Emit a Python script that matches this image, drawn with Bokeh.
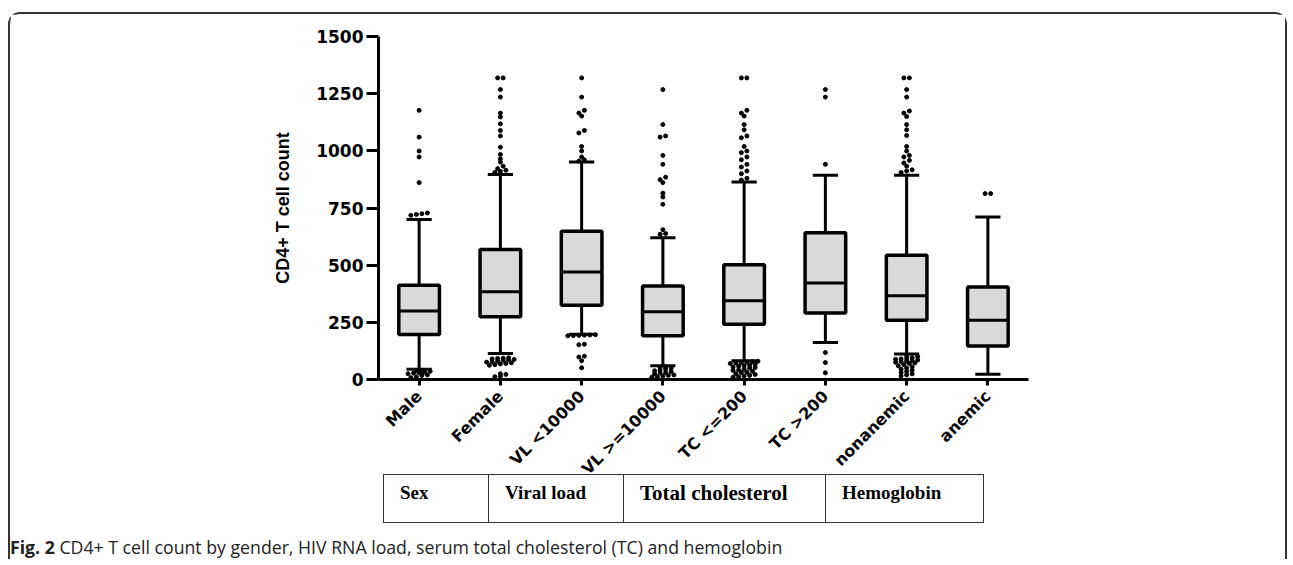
import math
from bokeh.plotting import figure
from bokeh.models import Range1d, FixedTicker, ColumnDataSource, Div
from bokeh.layouts import column
from bokeh.embed import file_html
from bokeh.resources import INLINE

# ---------------- data ----------------
categories = ["Male", "Female", "VL <10000", "VL >=10000", "TC <=200", "TC >200", "nonanemic", "anemic"]
q1 = [197, 274, 325, 191, 242, 291, 259, 147]
median = [300, 384, 470, 296, 344, 422, 366, 259]
q3 = [412, 569, 648, 409, 502, 642, 543, 405]
whisker_low = [45, 114, 198, 60, 82, 162, 111, 23]
whisker_high = [700, 896, 951, 620, 864, 893, 893, 711]

out_male = [1177, 1060, 999, 973, 861, 728, 725, 722, 718,
            40, 38, 36, 33, 30, 28, 25, 20, 18, 12, 8]
out_female = [1319, 1319, 1268, 1235, 1165, 1148, 1118, 1089, 1065, 1016, 984, 965, 951, 933, 922, 915, 910, 905,
              95, 93, 92, 90, 88, 86, 84, 80, 78, 76, 73, 70, 68, 65, 62, 25, 22, 14, 12]
out_vl_low = [1319, 1235, 1177, 1165, 1152, 1089, 1078, 1019, 999, 973, 961, 955,
              196, 195, 194, 193, 192, 191, 154, 152, 102, 98, 82, 51]
out_vl_high = [1268, 1115, 1065, 1060, 980, 941, 885, 874, 861, 815, 798, 766, 655, 638, 635,
               55, 52, 50, 45, 40, 38, 35, 30, 28, 25, 20, 18, 15, 12, 10]
out_tc_low = [1319, 1319, 1177, 1165, 1152, 1115, 1092, 1065, 1057, 1019, 999, 992, 973, 961, 941, 929, 912, 900, 880, 872,
              80, 78, 76, 74, 72, 70, 66, 62, 60, 58, 55, 52, 50, 45, 42, 40, 36, 32, 30, 25, 22, 18, 15, 12, 10]
out_tc_high = [1268, 1235, 941, 118, 74, 29]
out_nonanemic = [1319, 1319, 1268, 1235, 1174, 1165, 1150, 1115, 1092, 1067, 1019, 999, 980, 973, 958, 947, 933, 917, 912, 905,
                 105, 100, 95, 92, 90, 88, 85, 82, 80, 78, 75, 72, 70, 65, 60, 55, 50, 45, 40, 35, 30, 25, 20, 15]
out_anemic = [813, 813]

outliers = [out_male, out_female, out_vl_low, out_vl_high, out_tc_low, out_tc_high, out_nonanemic, out_anemic]

y_ticks = [0, 250, 500, 750, 1000, 1250, 1500]
groups = ["Sex", "Viral load", "Total cholesterol", "Hemoglobin"]
caption_bold = "Fig. 2"
caption_text = "CD4+ T cell count by gender, HIV RNA load, serum total cholesterol (TC) and hemoglobin"

# ---------------- chart ----------------
pos = list(range(len(categories)))
BOX_W = 0.5
CAP_W = 0.31

p1 = figure(output_backend="svg", toolbar_location=None,
            frame_width=650, frame_height=343,
            min_border_left=368, min_border_top=22, min_border_right=257, min_border_bottom=90,
            x_range=Range1d(-0.5, 7.5), y_range=Range1d(0, 1500))
p1.outline_line_color = None
p1.xgrid.visible = False
p1.ygrid.visible = False
p1.background_fill_color = "white"
p1.border_fill_color = "white"

src = ColumnDataSource(dict(x=pos, q1=q1, q3=q3, med=median, lo=whisker_low, hi=whisker_high,
                            bl=[x - BOX_W / 2 for x in pos], br=[x + BOX_W / 2 for x in pos],
                            cl=[x - CAP_W / 2 for x in pos], cr=[x + CAP_W / 2 for x in pos]))

p1.segment(x0="x", y0="q3", x1="x", y1="hi", source=src, line_color="black", line_width=3)
p1.segment(x0="x", y0="q1", x1="x", y1="lo", source=src, line_color="black", line_width=3)
p1.segment(x0="cl", y0="hi", x1="cr", y1="hi", source=src, line_color="black", line_width=3)
p1.segment(x0="cl", y0="lo", x1="cr", y1="lo", source=src, line_color="black", line_width=3)
p1.quad(left="bl", right="br", bottom="q1", top="q3", source=src,
        fill_color="#d9d9d9", line_color="black", line_width=3.5)
p1.segment(x0="bl", y0="med", x1="br", y1="med", source=src, line_color="black", line_width=3)

# outliers spread horizontally in rows (GraphPad style)
ox, oy = [], []
for i, vals in enumerate(outliers):
    vals = sorted(vals)
    rows, row = [], []
    for v in vals:
        if row and v - row[0] > 12:
            rows.append(row)
            row = []
        row.append(v)
    if row:
        rows.append(row)
    for r in rows:
        n = len(r)
        for k, v in enumerate(r):
            ox.append(i + (k - (n - 1) / 2) * 0.068)
            oy.append(v)
p1.scatter(ox, oy, size=4, color="black")

p1.xaxis.ticker = FixedTicker(ticks=pos)
p1.xaxis.major_label_overrides = {i: c for i, c in enumerate(categories)}
p1.xaxis.major_label_orientation = math.pi / 4
p1.xaxis.major_label_text_font = "DejaVu Sans"
p1.xaxis.major_label_text_font_style = "bold"
p1.xaxis.major_label_text_font_size = "16px"
p1.xaxis.major_label_text_color = "black"
p1.xaxis.major_label_standoff = 8
p1.xaxis.axis_line_width = 3
p1.xaxis.axis_line_color = "black"
p1.xaxis.major_tick_line_width = 3
p1.xaxis.major_tick_line_color = "black"
p1.xaxis.major_tick_out = 6
p1.xaxis.major_tick_in = 0
p1.xaxis.minor_tick_line_color = None

p1.yaxis.ticker = FixedTicker(ticks=y_ticks)
p1.yaxis.major_label_text_font = "DejaVu Sans"
p1.yaxis.major_label_text_font_style = "bold"
p1.yaxis.major_label_text_font_size = "17px"
p1.yaxis.major_label_text_color = "black"
p1.yaxis.major_label_standoff = 3
p1.yaxis.axis_line_width = 3
p1.yaxis.axis_line_color = "black"
p1.yaxis.major_tick_line_width = 3
p1.yaxis.major_tick_line_color = "black"
p1.yaxis.major_tick_out = 12
p1.yaxis.major_tick_in = 0
p1.yaxis.minor_tick_line_color = None
p1.yaxis.axis_label = "CD4+ T cell count"
p1.yaxis.axis_label_text_font = "Liberation Sans"
p1.yaxis.axis_label_text_font_style = "bold"
p1.yaxis.axis_label_text_font_size = "18px"
p1.yaxis.axis_label_text_color = "black"
p1.yaxis.axis_label_standoff = 20

# ---------------- table + caption (HTML) ----------------
edges = [373, 478, 613, 815, 974]
label_sizes = [19, 19, 21, 19]
cells = []
for i, g in enumerate(groups):
    left = edges[i]
    w = edges[i + 1] - edges[i]
    right_border = "border-right:1.5px solid #333;" if i == len(groups) - 1 else ""
    cells.append(
        f'<div style="position:absolute;left:{left}px;top:3px;width:{w}px;height:49px;box-sizing:border-box;'
        f'border-left:1.5px solid #333;border-top:1.5px solid #333;border-bottom:1.5px solid #333;{right_border}'
        f'padding-left:16px;padding-top:8px;'
        f'font-family:\'Liberation Serif\';font-weight:bold;font-size:{label_sizes[i]}px;line-height:{label_sizes[i]}px;color:#000;">'
        f'{g}</div>')
caption = (f'<div style="position:absolute;left:0px;top:68px;white-space:nowrap;font-family:\'Open Sans\';'
           f'font-size:17.7px;line-height:17.7px;color:#222;"><b>{caption_bold}</b> {caption_text}</div>')
html = '<div style="position:relative;width:1275px;height:88px;">' + "".join(cells) + caption + '</div>'
div = Div(text=html, width=1275, height=88, margin=(-17, 0, 0, 0))

layout = column(p1, div, spacing=0, margin=(12, 0, 0, 8),
                styles={"border-top": "2px solid #333333", "border-left": "2px solid #333333",
                        "border-right": "2px solid #333333",
                        "border-top-left-radius": "12px", "border-top-right-radius": "12px"})

open("out.html", "w").write(file_html(layout, INLINE))
